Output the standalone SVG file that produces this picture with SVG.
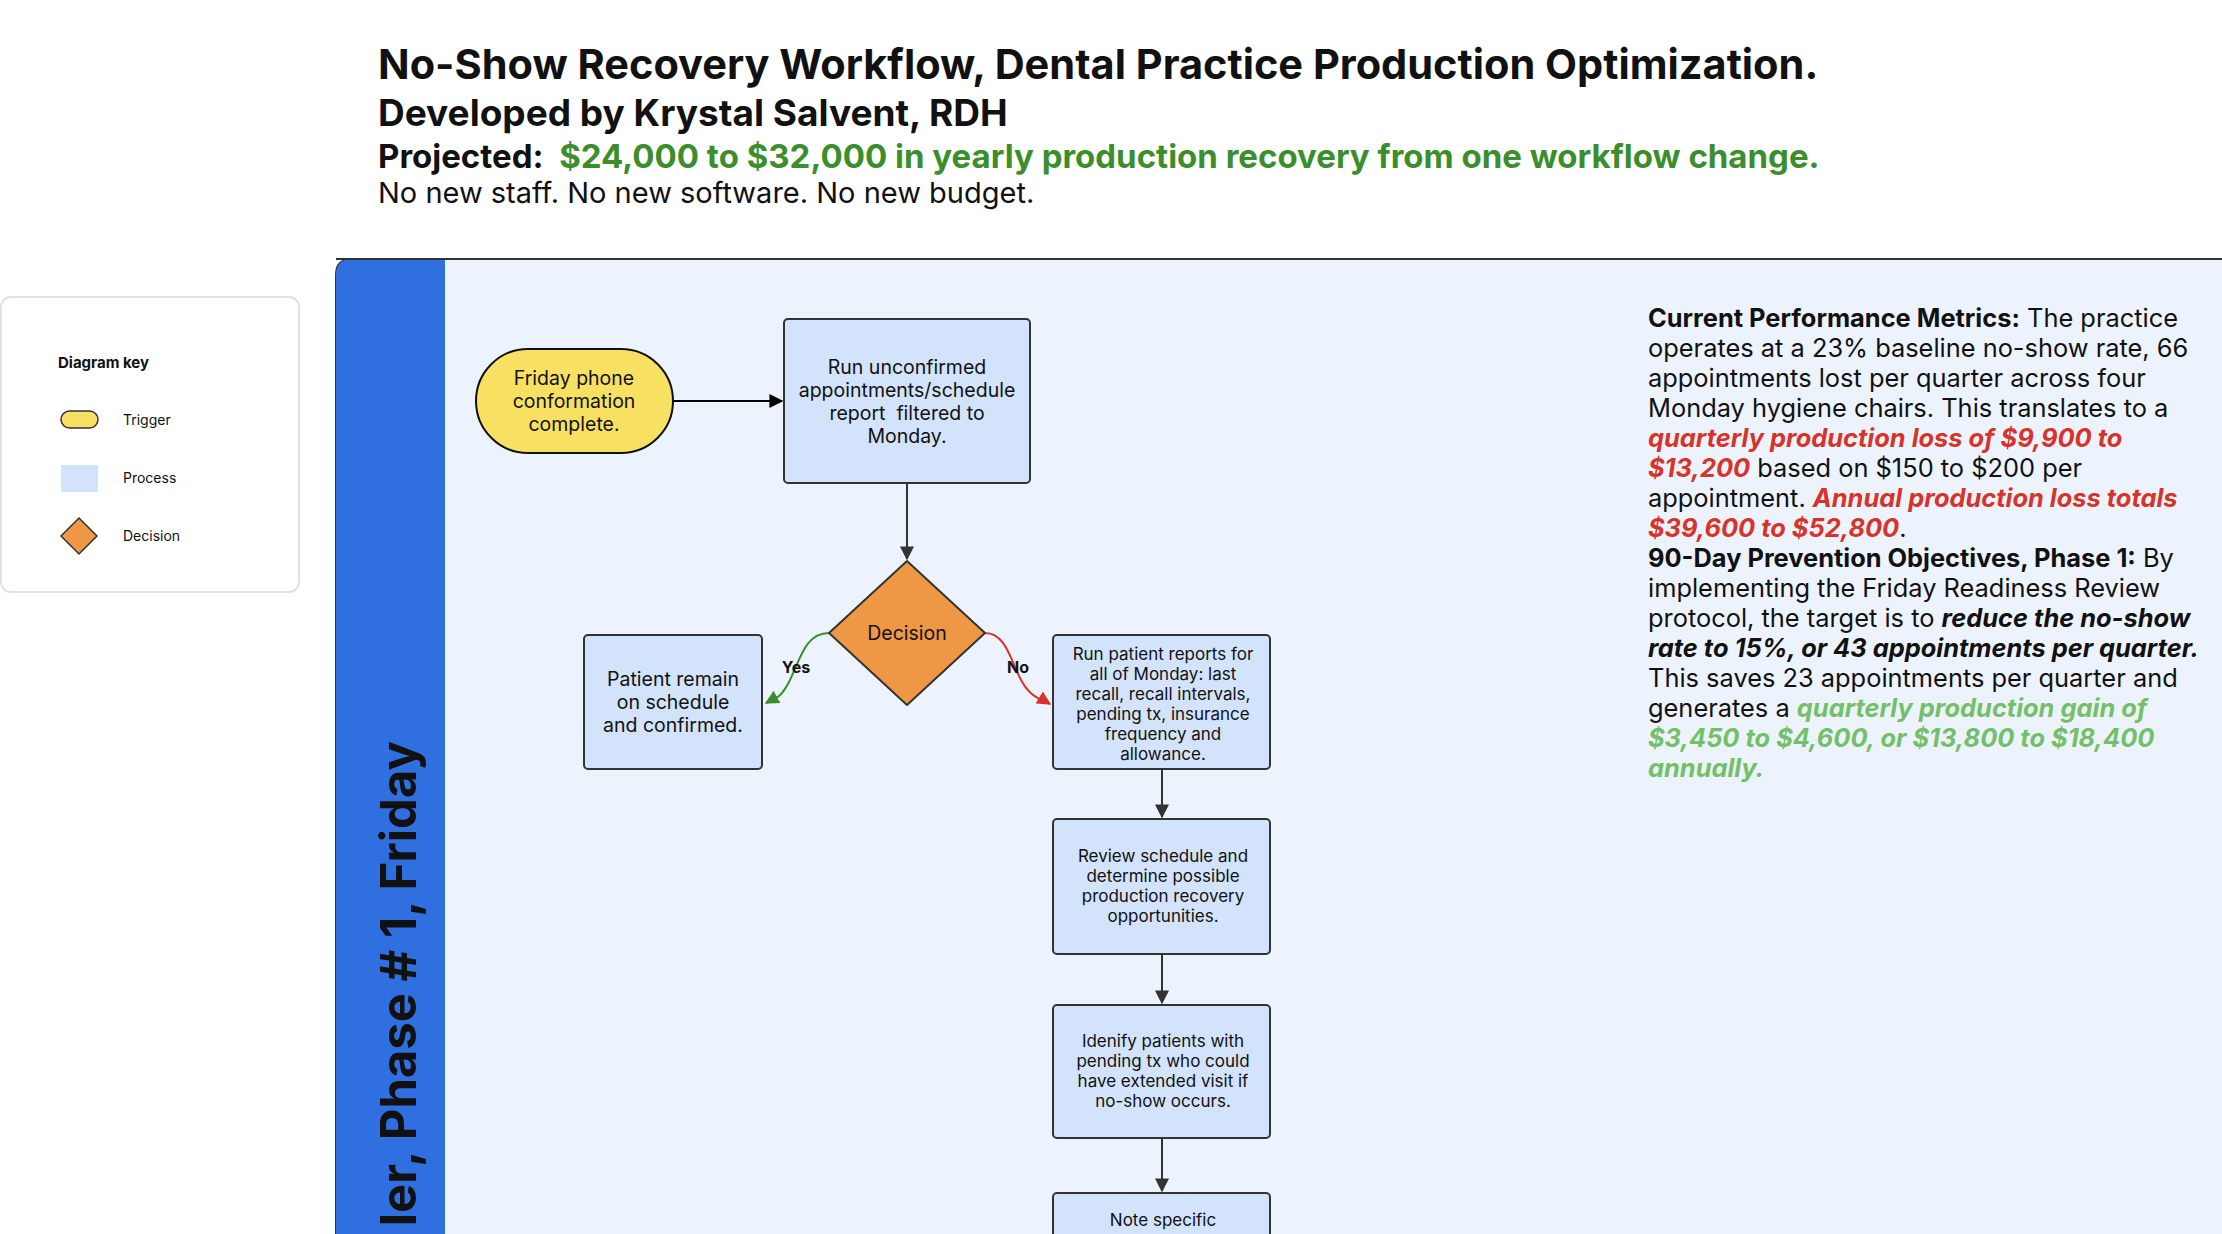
<svg xmlns="http://www.w3.org/2000/svg" width="2222" height="1234" viewBox="0 0 2222 1234">
<defs>
<style>
text{font-family:Inter,"Noto Sans","Liberation Sans",sans-serif;fill:#111}
.proc{fill:#D3E3FC;stroke:#333;stroke-width:2}
.nt{font-size:17px;text-anchor:middle}
.nt2{font-size:19.5px;text-anchor:middle}
.edge{fill:none;stroke:#333;stroke-width:2}
.rt{font-size:25.4px}
.b{font-weight:700}
.red{fill:#D7332B;font-weight:700;font-style:italic}
.grn{fill:#73C069;font-weight:700;font-style:italic}
.bi{font-weight:700;font-style:italic}
</style>
<marker id="ah" viewBox="0 0 10 10" refX="9" refY="5" markerWidth="7" markerHeight="7" orient="auto"><path d="M0,0L10,5L0,10z" fill="#333"/></marker>
<marker id="ahk" viewBox="0 0 10 10" refX="9" refY="5" markerWidth="7" markerHeight="7" orient="auto"><path d="M0,0L10,5L0,10z" fill="#000"/></marker>
<marker id="ag" viewBox="0 0 10 10" refX="9" refY="5" markerWidth="7" markerHeight="7" orient="auto"><path d="M0,0L10,5L0,10z" fill="#3C8E2C"/></marker>
<marker id="ar" viewBox="0 0 10 10" refX="9" refY="5" markerWidth="7" markerHeight="7" orient="auto"><path d="M0,0L10,5L0,10z" fill="#D7332B"/></marker>
</defs>
<rect width="2222" height="1234" fill="#fff"/>
<g id="header">
<text x="378" y="79" font-size="41.5" class="b">No-Show Recovery Workflow, Dental Practice Production Optimization.</text>
<text x="378" y="126" font-size="37" class="b">Developed by Krystal Salvent, RDH</text>
<text x="378" y="168" font-size="33" class="b" xml:space="preserve">Projected:  <tspan fill="#3C8E2C">$24,000 to $32,000 in yearly production recovery from one workflow change.</tspan></text>
<text x="378" y="203" font-size="29">No new staff. No new software. No new budget.</text>
</g>
<g id="legend">
<rect x="1" y="297" width="298" height="295" rx="10" fill="#fff" stroke="#e2e2e2" stroke-width="2"/>
<text x="58" y="368" font-size="15" class="b">Diagram key</text>
<rect x="61" y="411" width="37" height="17" rx="8.5" fill="#F8E063" stroke="#333" stroke-width="1.5"/>
<text x="123" y="425" font-size="14">Trigger</text>
<rect x="61" y="465" width="37" height="27" fill="#D3E3FC"/>
<text x="123" y="483" font-size="14">Process</text>
<path d="M79,518L97,536L79,554L61,536z" fill="#EE9846" stroke="#333" stroke-width="1.5"/>
<text x="123" y="541" font-size="14">Decision</text>
</g>
<g id="lane">
<path d="M336,1240V275Q336,259 352,259H2230V1240z" fill="#EDF3FD" stroke="#333" stroke-width="2"/>
<path d="M336,1240V275Q336,259 352,259H445V1240z" fill="#306FDF"/>
<line x1="336" y1="259" x2="2222" y2="259" stroke="#333" stroke-width="2"/>
<text transform="translate(416,741) rotate(-90)" font-size="49" class="b" text-anchor="end">ler, Phase # 1, Friday</text>
</g>
<g id="connectors">
<path class="edge" style="stroke:#000" d="M673,401H782" marker-end="url(#ahk)"/>
<path class="edge" d="M907,483V559" marker-end="url(#ah)"/>
<path class="edge" style="stroke:#3C8E2C" d="M829,633C805,633 800,660 790,680S775,698 766,703" marker-end="url(#ag)"/>
<path class="edge" style="stroke:#D7332B" d="M985,633C1005,633 1010,658 1020,678S1040,698 1050,704" marker-end="url(#ar)"/>
<path class="edge" d="M1162,769V817" marker-end="url(#ah)"/>
<path class="edge" d="M1162,954V1003" marker-end="url(#ah)"/>
<path class="edge" d="M1162,1138V1191" marker-end="url(#ah)"/>
<text x="796" y="673" font-size="16" class="b" text-anchor="middle">Yes</text>
<text x="1018" y="673" font-size="16" class="b" text-anchor="middle">No</text>
</g>
<g id="trigger">
<rect x="476" y="349" width="197" height="104" rx="52" fill="#F8E063" stroke="#111" stroke-width="2"/>
<text class="nt2" x="574" y="385">Friday phone<tspan x="574" dy="23">conformation</tspan><tspan x="574" dy="23">complete.</tspan></text>
</g>
<g id="run-report">
<rect class="proc" x="784" y="319" width="246" height="164" rx="4"/>
<text class="nt2" x="907" y="374" xml:space="preserve">Run unconfirmed<tspan x="907" dy="23">appointments/schedule</tspan><tspan x="907" dy="23">report  filtered to</tspan><tspan x="907" dy="23">Monday.</tspan></text>
</g>
<g id="decision">
<path d="M907,561L985,633L907,705L829,633z" fill="#EE9846" stroke="#333" stroke-width="2" stroke-linejoin="round"/>
<text class="nt2" x="907" y="640">Decision</text>
</g>
<g id="patient-remain">
<rect class="proc" x="584" y="635" width="178" height="134" rx="4"/>
<text class="nt2" x="673" y="686">Patient remain<tspan x="673" dy="23">on schedule</tspan><tspan x="673" dy="23">and confirmed.</tspan></text>
</g>
<g id="run-patient-reports">
<rect class="proc" x="1053" y="635" width="217" height="134" rx="4"/>
<text class="nt" x="1163" y="660">Run patient reports for<tspan x="1163" dy="20">all of Monday: last</tspan><tspan x="1163" dy="20">recall, recall intervals,</tspan><tspan x="1163" dy="20">pending tx, insurance</tspan><tspan x="1163" dy="20">frequency and</tspan><tspan x="1163" dy="20">allowance.</tspan></text>
</g>
<g id="review-schedule">
<rect class="proc" x="1053" y="819" width="217" height="135" rx="4"/>
<text class="nt" x="1163" y="862">Review schedule and<tspan x="1163" dy="20">determine possible</tspan><tspan x="1163" dy="20">production recovery</tspan><tspan x="1163" dy="20">opportunities.</tspan></text>
</g>
<g id="identify-patients">
<rect class="proc" x="1053" y="1005" width="217" height="133" rx="4"/>
<text class="nt" x="1163" y="1047">Idenify patients with<tspan x="1163" dy="20">pending tx who could</tspan><tspan x="1163" dy="20">have extended visit if</tspan><tspan x="1163" dy="20">no-show occurs.</tspan></text>
</g>
<g id="note-specific">
<rect class="proc" x="1053" y="1193" width="217" height="60" rx="4"/>
<text class="nt" x="1163" y="1226">Note specific</text>
</g>
<g id="metrics">
<text class="rt" x="1648" y="327"><tspan class="b">Current Performance Metrics:</tspan> The practice</text>
<text class="rt" x="1648" y="357">operates at a 23% baseline no-show rate, 66</text>
<text class="rt" x="1648" y="387">appointments lost per quarter across four</text>
<text class="rt" x="1648" y="417">Monday hygiene chairs. This translates to a</text>
<text class="rt" x="1648" y="447"><tspan class="red">quarterly production loss of $9,900 to</tspan></text>
<text class="rt" x="1648" y="477"><tspan class="red">$13,200</tspan> based on $150 to $200 per</text>
<text class="rt" x="1648" y="507">appointment. <tspan class="red">Annual production loss totals</tspan></text>
<text class="rt" x="1648" y="537"><tspan class="red">$39,600 to $52,800</tspan>.</text>
<text class="rt" x="1648" y="567"><tspan class="b">90-Day Prevention Objectives, Phase 1:</tspan> By</text>
<text class="rt" x="1648" y="597">implementing the Friday Readiness Review</text>
<text class="rt" x="1648" y="627">protocol, the target is to <tspan class="bi">reduce the no-show</tspan></text>
<text class="rt" x="1648" y="657"><tspan class="bi">rate to 15%, or 43 appointments per quarter.</tspan></text>
<text class="rt" x="1648" y="687">This saves 23 appointments per quarter and</text>
<text class="rt" x="1648" y="717">generates a <tspan class="grn">quarterly production gain of</tspan></text>
<text class="rt" x="1648" y="747"><tspan class="grn">$3,450 to $4,600, or $13,800 to $18,400</tspan></text>
<text class="rt" x="1648" y="777"><tspan class="grn">annually.</tspan></text>
</g>
</svg>
